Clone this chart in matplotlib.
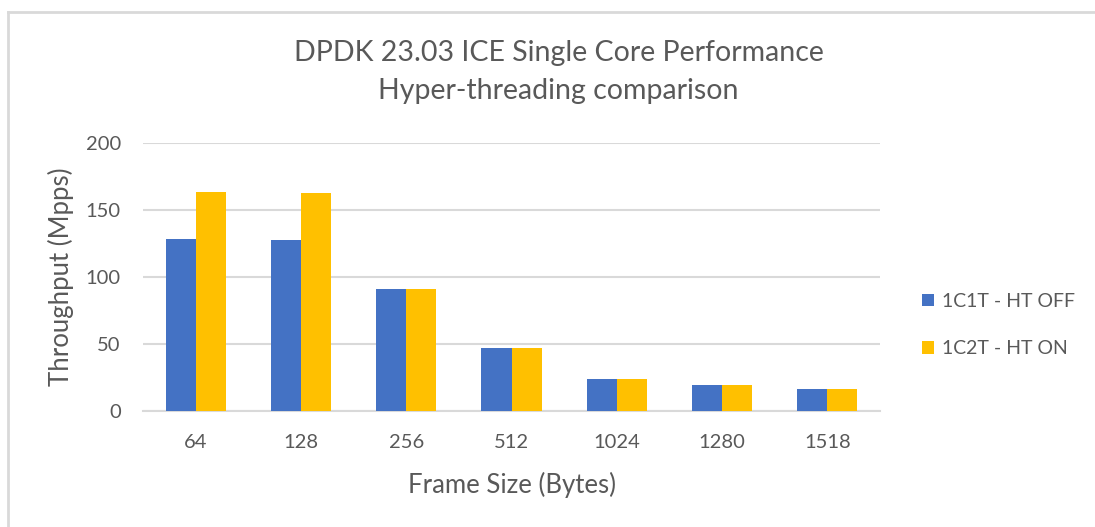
import matplotlib.pyplot as plt
from matplotlib.lines import Line2D
import numpy as np

plt.rcParams['font.family'] = ['Lato', 'DejaVu Sans']

frame_sizes = ["64", "128", "256", "512", "1024", "1280", "1518"]
ht_off = [128.0, 127.3, 90.7, 46.8, 24.0, 19.0, 16.0]
ht_on = [163.5, 162.5, 90.7, 46.8, 24.0, 19.0, 16.0]
series_names = ["1C1T - HT OFF", "1C2T - HT ON"]

blue = "#4472c4"
gold = "#ffc000"
grey_text = "#595959"
grid_col = "#d9d9d9"

fig = plt.figure(figsize=(10.95, 5.27), dpi=100)
ax = fig.add_axes([0.1306, 0.2207, 0.6731, 0.5085])

x = np.arange(len(frame_sizes))
w = 1 / 3.5
ax.bar(x - w / 2, ht_off, width=w, color=blue, label=series_names[0], zorder=3)
ax.bar(x + w / 2, ht_on, width=w, color=gold, label=series_names[1], zorder=3)

ax.set_xlim(-0.5, len(frame_sizes) - 0.5)
ax.set_ylim(0, 200)
ax.set_yticks([0, 50, 100, 150, 200])
ax.set_xticks(x)
ax.set_xticklabels(frame_sizes)
ax.grid(axis='y', color=grid_col, linewidth=1.5, zorder=0)
for s in ['top', 'right', 'left']:
    ax.spines[s].set_visible(False)
ax.spines['bottom'].set_color(grid_col)
ax.spines['bottom'].set_linewidth(1.5)
ax.tick_params(axis='both', length=0, labelsize=14.5, labelcolor=grey_text)
ax.tick_params(axis='y', pad=16)
ax.tick_params(axis='x', pad=17)

ax.set_xlabel("Frame Size (Bytes)", fontsize=18.5, color=grey_text, labelpad=15)
ax.set_ylabel("Throughput (Mpps)", fontsize=18.5, color=grey_text, labelpad=8)

fig.text(0.51, 0.863, "DPDK 23.03 ICE Single Core Performance\nHyper-threading comparison",
         ha='center', va='center', fontsize=20.5, color=grey_text, linespacing=1.58)

leg = ax.legend(loc='center left', bbox_to_anchor=(922 / 1095, 1 - 325 / 527),
                bbox_transform=fig.transFigure, frameon=False, borderaxespad=0,
                borderpad=0, fontsize=14, labelspacing=1.55, handlelength=0.62,
                handleheight=0.62, handletextpad=0.4)
for t in leg.get_texts():
    t.set_color(grey_text)

# outer chart border (top and left edges visible)
fig.add_artist(Line2D([8 / 1095, 1], [1 - 12 / 527, 1 - 12 / 527], color=grid_col, lw=2,
                      transform=fig.transFigure))
fig.add_artist(Line2D([8 / 1095, 8 / 1095], [0, 1 - 12 / 527], color=grid_col, lw=2,
                      transform=fig.transFigure))

fig.savefig("out.png", dpi=100)
